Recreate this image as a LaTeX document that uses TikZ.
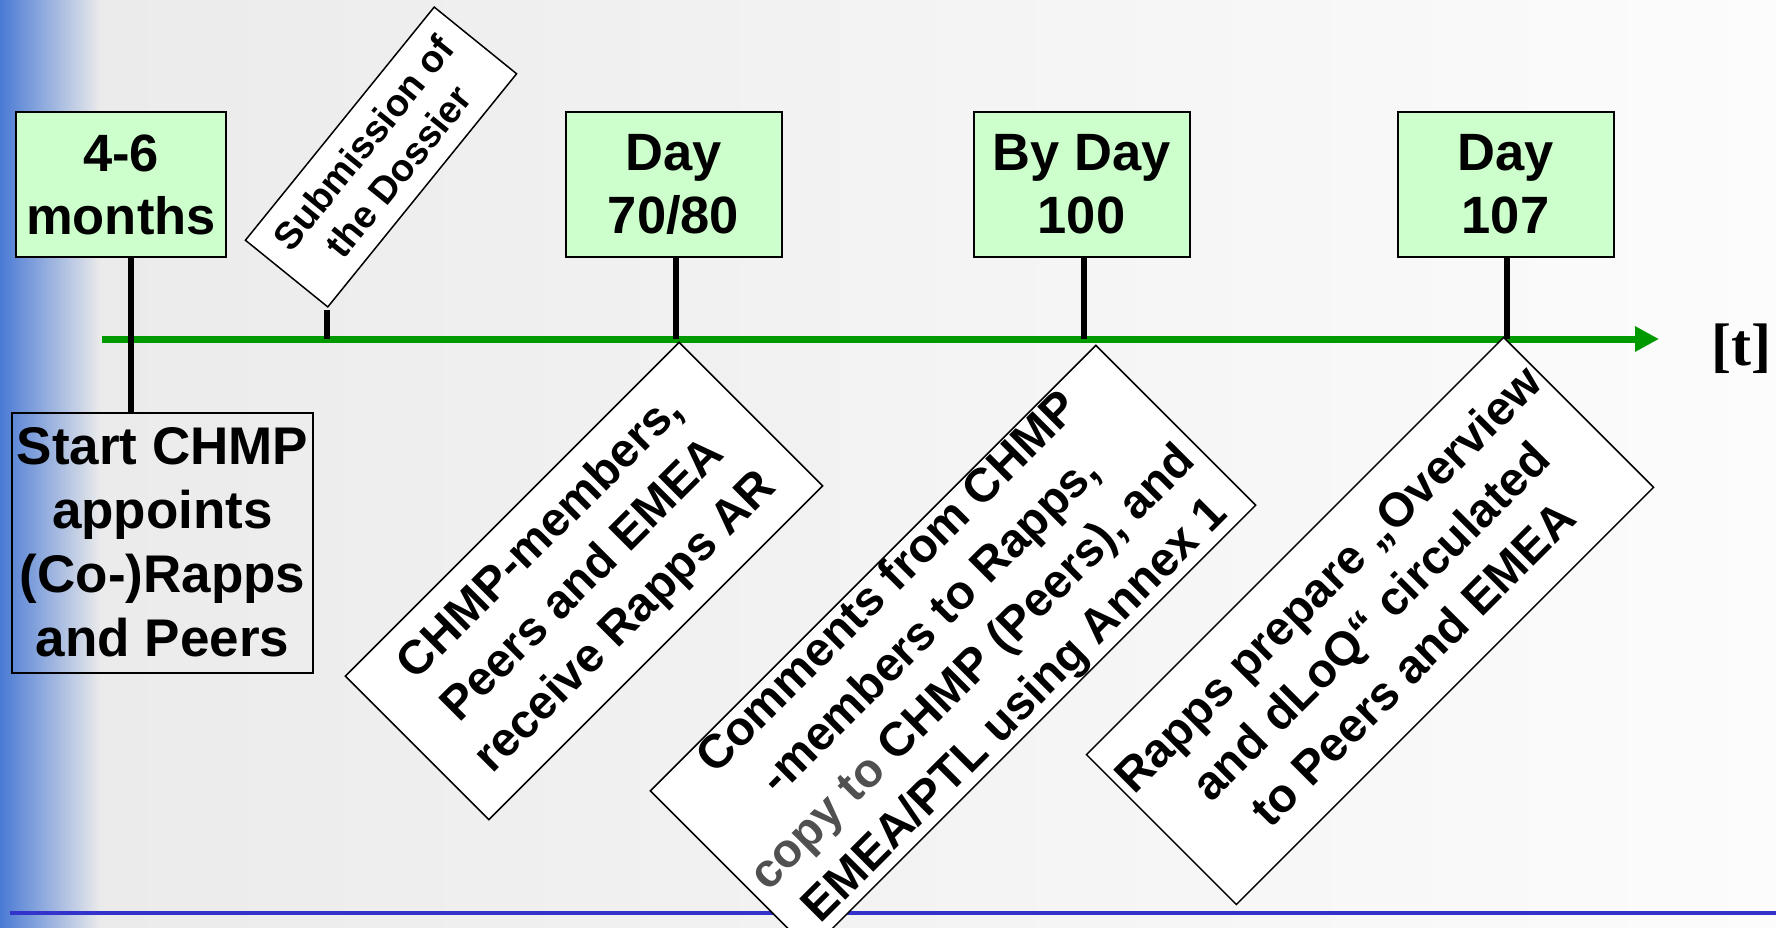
\documentclass[tikz,border=0pt]{standalone}
\usepackage{fontspec}
\setmainfont{Liberation Sans}
\newfontfamily\tfont{Liberation Serif}
\usetikzlibrary{arrows.meta}
\definecolor{boxgreen}{HTML}{CCFFCC}
\definecolor{linegreen}{HTML}{009900}
\definecolor{slideblue}{HTML}{4A7AD4}
\definecolor{ruleblue}{HTML}{3333CC}
\definecolor{bgleft}{HTML}{EAEAEA}
\definecolor{bgright}{HTML}{FCFCFC}
\definecolor{copygray}{HTML}{505050}
\begin{document}
\begin{tikzpicture}[x=1pt,y=-1pt,
  daybox/.style={draw,line width=2pt,fill=boxgreen,minimum width=216pt,minimum height=145pt,
    inner sep=0pt,align=center,font=\fontsize{52.5}{63}\selectfont\bfseries},
  startbox/.style={draw,line width=2pt,minimum width=301pt,minimum height=260pt,
    inner sep=0pt,align=center,font=\fontsize{53}{64}\selectfont\bfseries},
  notebox/.style={draw,line width=1.5pt,fill=white,inner sep=0pt,align=center,
    font=\fontsize{47.5}{60}\selectfont\bfseries},
  tick/.style={line width=6pt}]
\useasboundingbox (0,0) rectangle (1776,928);
\clip (0,0) rectangle (1776,928);
\shade[left color=bgleft,right color=bgright] (0,0) rectangle (1776,928);
\shade[left color=slideblue,right color=bgleft] (0,0) rectangle (100,928);
\draw[ruleblue,line width=3.5pt] (10,913) -- (1776,913);

\coordinate (t0) at (102,339);
\coordinate (tend) at (1659,339);
\coordinate (m0) at (327,339);
\coordinate (m1) at (131,339);
\coordinate (m2) at (676,339);
\coordinate (m3) at (1084,339);
\coordinate (m4) at (1507,339);
\draw[linegreen,line width=7pt,-{Triangle[length=24pt,width=24pt]}] (t0) -- (tend);
\node[font=\tfont\bfseries\fontsize{60}{60}\selectfont,inner sep=0pt] (tlab) at (1741,349) {[t]};

\node[daybox,minimum width=210pt] (d1) at (121,184.5) {4-6\\months};
\node[daybox] (d2) at (673.5,184.5) {Day\\70/80};
\node[daybox] (d3) at (1081.5,184.5) {By Day\\100};
\node[daybox] (d4) at (1505.5,184.5) {Day\\107};
\node[startbox] (start) at (162.5,542.5) {Start CHMP\\appoints\\(Co-)Rapps\\and Peers};

\node[notebox,font=\fontsize{38}{45}\selectfont\bfseries,minimum width=300pt,minimum height=106pt,rotate=51] (sub) at (381,157) {Submission of\\the Dossier};
\node[notebox,minimum width=472pt,minimum height=203pt,rotate=45] (n2) at (584,581) {CHMP-members,\\Peers and EMEA\\receive Rapps AR};
\node[notebox,minimum width=630pt,minimum height=226pt,rotate=45] (n3) at (953,648) {Comments from CHMP\\-members to Rapps,\\\textcolor{copygray}{copy to} CHMP (Peers), and\\EMEA/PTL using Annex 1};
\node[notebox,minimum width=590pt,minimum height=212pt,rotate=45] (n4) at (1370,621) {Rapps prepare „Overview\\and dLoQ“ circulated\\to Peers and EMEA};

\draw[tick] (d1.south -| m1) -- (start.north -| m1);
\draw[tick] (d2.south -| m2) -- (m2);
\draw[tick] (d3.south -| m3) -- (m3);
\draw[tick] (d4.south -| m4) -- (m4);
\draw[tick,shorten >=2pt] (m0) -- (m0 |- sub.south west);
\end{tikzpicture}
\end{document}
